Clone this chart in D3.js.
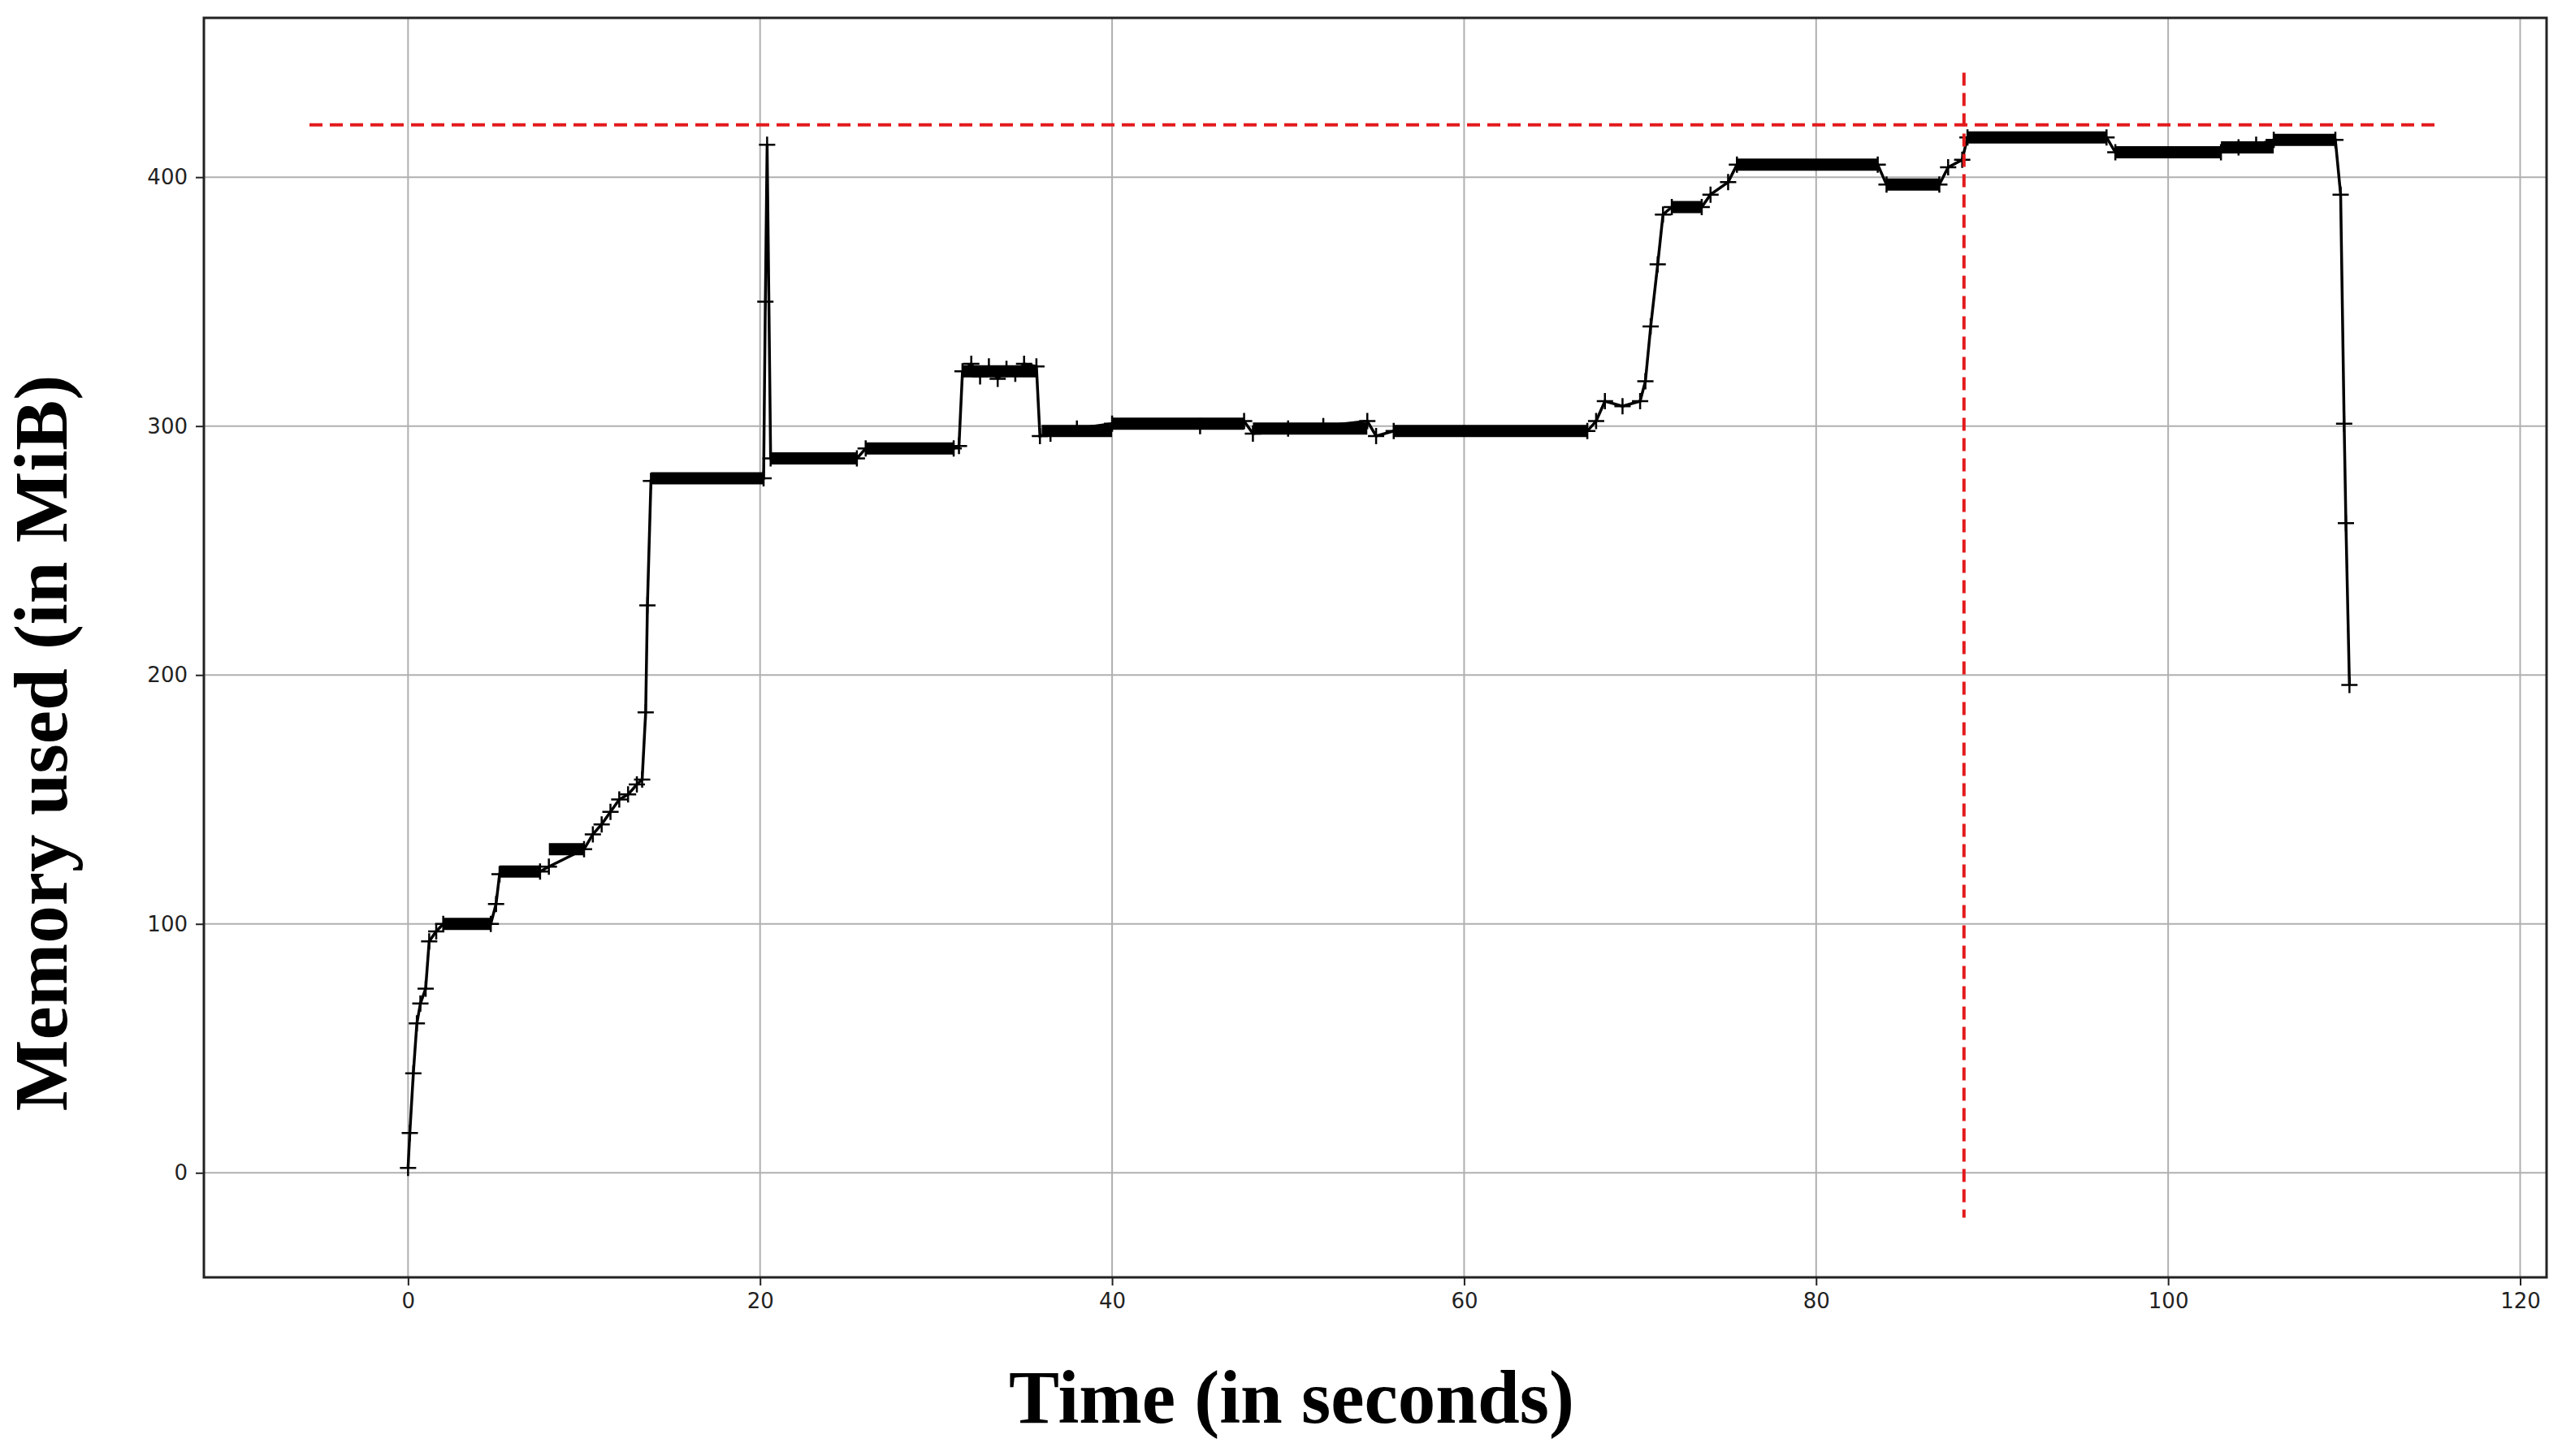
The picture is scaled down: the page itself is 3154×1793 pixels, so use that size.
<!DOCTYPE html>
<html><head><meta charset="utf-8">
<script src="https://cdn.jsdelivr.net/npm/d3@7"></script>
<style>body{margin:0;background:#fff}</style></head>
<body><svg id="c" width="3154" height="1793"></svg>
<script>
// Sampled points (time s, memory MiB)
const times = [0,0.1,0.3,0.5,0.7,1.0,1.2,1.6,2.0,4.7,5.0,5.2,7.5,8.0,10.0,10.5,11,11.5,12,12.5,13,13.3,13.5,13.6,13.8,20.2,20.3,20.4,20.6,25.5,26,31,31.3,31.5,32,32.5,33,33.5,34,34.5,35,35.7,35.9,36.5,38,40,45,47.5,48,50,52,54.5,55,56,67,67.5,68,69,70,70.3,70.6,71,71.3,71.8,73.5,74,75,75.5,83.5,84,87,87.5,88.3,88.6,96.5,97,103,104,105,106,109.5,109.8,110,110.1,110.3];
const memory = [2,16,40,60,68,74,93,97,100,100,108,120,121,123,130,136,140,145,150,152,156,158,185,228,278,279,350,413,287,287,291,291,292,322,325,320,324,319,323,321,325,324,296,297,299,301,300,302,297,299,300,302,296,298,298,302,310,308,310,318,340,365,385,388,388,393,398,405,405,397,397,404,407,416,416,410,410,412,413,415,415,393,301,261,196];
// Dense-marker plateaus [start, end, memory]
const plateaus = [[2,4.7,100],[5.2,7.5,121],[8,10,130],[13.8,20.2,279],[20.6,25.5,287],[26,31,291],[31.5,35.7,322],[36,40,298],[40,47.5,301],[48,54.5,299],[56,67,298],[71.8,73.5,388],[75.5,83.5,405],[84,87,397],[88.6,96.5,416],[97,103,410],[103,106,412],[106,109.5,415]];
const xTicks = [0,20,40,60,80,100,120];
const yTicks = [0,100,200,300,400];
const peakMem = 421, peakTime = 88.4;

const svg = d3.select("#c");
const L=251,R=3135,T=22,B=1573;
const x = d3.scaleLinear().domain([-11.6,121.5]).range([L,R]);
const y = d3.scaleLinear().domain([-42,464]).range([B,T]);

svg.append("g").selectAll("line").data(xTicks).join("line")
 .attr("x1",d=>x(d)).attr("x2",d=>x(d)).attr("y1",T).attr("y2",B).attr("stroke","#b0b0b0").attr("stroke-width",2);
svg.append("g").selectAll("line").data(yTicks).join("line")
 .attr("y1",d=>y(d)).attr("y2",d=>y(d)).attr("x1",L).attr("x2",R).attr("stroke","#b0b0b0").attr("stroke-width",2);

const gx = svg.append("g").attr("transform",`translate(0,${B})`).call(d3.axisBottom(x).tickValues(xTicks).tickSize(10).tickPadding(10));
const gy = svg.append("g").attr("transform",`translate(${L},0)`).call(d3.axisLeft(y).tickValues(yTicks).tickSize(10).tickPadding(10));
[gx,gy].forEach(g=>{g.select(".domain").remove();g.selectAll("text").attr("font-family","DejaVu Sans").attr("font-size",26).attr("fill","#222");g.selectAll("line").attr("stroke","#222").attr("stroke-width",2);});
svg.append("rect").attr("x",L).attr("y",T).attr("width",R-L).attr("height",B-T).attr("fill","none").attr("stroke","#222").attr("stroke-width",3);

svg.append("g").selectAll("line").data(plateaus).join("line")
 .attr("x1",d=>x(d[0])).attr("x2",d=>x(d[1])).attr("y1",d=>y(d[2])).attr("y2",d=>y(d[2]))
 .attr("stroke","#000").attr("stroke-width",15);
const pts = times.map((t,i)=>[t,memory[i]]);
svg.append("path").datum(pts).attr("d",d3.line().x(d=>x(d[0])).y(d=>y(d[1])))
 .attr("fill","none").attr("stroke","#000").attr("stroke-width",3.5);
const s=10;
svg.append("g").selectAll("path").data(pts).join("path")
 .attr("d",d=>`M${x(d[0])-s},${y(d[1])}H${x(d[0])+s}M${x(d[0])},${y(d[1])-s}V${y(d[1])+s}`)
 .attr("stroke","#000").attr("stroke-width",2.5);

svg.append("line").attr("x1",x(-5.6)).attr("x2",x(115.2)).attr("y1",y(peakMem)).attr("y2",y(peakMem))
 .attr("stroke","#e31a1c").attr("stroke-width",4).attr("stroke-dasharray","16,9");
svg.append("line").attr("x1",x(peakTime)).attr("x2",x(peakTime)).attr("y1",y(442)).attr("y2",y(-18))
 .attr("stroke","#e31a1c").attr("stroke-width",4).attr("stroke-dasharray","16,9");

svg.append("text").attr("x",1590).attr("y",1752).attr("text-anchor","middle")
 .attr("font-family","Liberation Serif").attr("font-weight","bold").attr("font-size",93).text("Time (in seconds)");
svg.append("text").attr("transform","translate(82,915) rotate(-90)").attr("text-anchor","middle")
 .attr("font-family","Liberation Serif").attr("font-weight","bold").attr("font-size",93).text("Memory used (in MiB)");
</script></body></html>
